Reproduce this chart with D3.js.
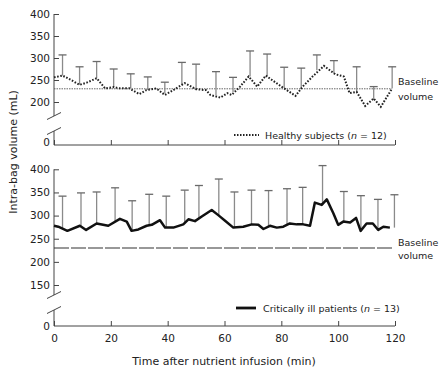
<!DOCTYPE html>
<html>
<head>
<meta charset="utf-8">
<script src="https://cdn.jsdelivr.net/npm/d3@7"></script>
<style>
  body { margin: 0; background: #fff; }
  svg { display: block; font-family: "DejaVu Sans", Verdana, sans-serif; }
</style>
</head>
<body>
<div id="chart"></div>
<script>
// data
const healthyTime = [0,3,6,9,11.5,15,18,21,23,26.5,30,32.5,36,39,42,46,50,53.5,55,58.5,61,62.5,65.5,68.5,71.5,74.5,80.5,85,87.5,91,95,99,102,104,106.5,109.5,112.5,115,119];
const healthyMean = [256,260,250,239,244,254,231,234,231,231,218,227,231,216,227,243,229,227,216,210,220,216,235,258,235,260,233,214,235,258,282,263,258,220,223,191,208,189,231];
const healthySdTime = [3,9,15,21,27,33,39,45,50,57,63,69,75,81,87,92.5,98.5,106.5,112.5,119];
const healthySdMean = [260,239,254,234,231,227,220,240,229,216,223,258,258,232,232,272,265,220,205,231];
const healthySdTop = [307,280,292,275,264,257,245,290,286,269,256,316,309,279,277,307,294,280,235,280];

const patientTime = [0,1.5,4.7,9.1,11.3,15,19.1,23.2,25.6,27.3,29.7,32.6,34.4,37.3,39.1,42,45.5,47.3,49.6,52,55.5,57.8,60.2,63.1,66.6,69.6,71.9,73.7,76,78.4,80.7,83,85.4,87.7,90.1,91.8,94.2,96,98.3,100,101.8,104.2,106.3,107.9,110,112.2,114.1,115.9,118.2];
const patientMean = [278,276,267,278,269,283,278,293,287,267,270,278,280,290,274,274,281,292,288,298,312,301,289,274,276,281,280,271,278,274,276,283,281,281,278,328,323,335,305,280,287,285,295,267,283,283,269,276,274];
const patientSdTime = [3,9.5,15,21.5,27.5,33.5,39.5,46,51,58,63.5,69.5,75.5,82,87.5,94.5,102,108,114,119.8];
const patientSdMean = [272,278,283,288,268,279,274,283,295,300,274,281,276,281,281,323,287,267,269,274];
const patientSdTop = [342,349,351,360,332,346,342,355,365,379,351,355,354,358,361,408,352,343,335,345];

const baseline = 230;
const xTicks = [0,20,40,60,80,100,120];
const topTicks = [200,250,300,350,400];
const botTicks = [150,200,250,300,350,400];

const W = 444, H = 375;
const axisColor = "#444";

const svg = d3.select("#chart").append("svg")
    .attr("width", W)
    .attr("height", H);

const x = d3.scaleLinear().domain([0, 120]).range([54, 395]);

// each panel: broken y axis, upper scale + a zero stub
const panels = [
  { y: d3.scaleLinear().domain([200, 400]).range([102, 14]), zeroY: 145, breakA: 116, breakB: 131,
    ticks: topTicks, labels: false },
  { y: d3.scaleLinear().domain([150, 400]).range([285, 169.3]), zeroY: 326, breakA: 295, breakB: 310,
    ticks: botTicks, labels: true }
];

panels.forEach(p => {
  let g = svg.append("g");
  let top = p.y(400);

  // y axis pieces with break marks
  g.append("line").attr("x1", 54).attr("x2", 54).attr("y1", top).attr("y2", p.breakA)
    .attr("stroke", axisColor);
  g.append("line").attr("x1", 54).attr("x2", 54).attr("y1", p.breakB).attr("y2", p.zeroY)
    .attr("stroke", axisColor);
  [p.breakA, p.breakB].forEach(b => {
    g.append("line")
      .attr("x1", 47).attr("y1", b + 3.5)
      .attr("x2", 61).attr("y2", b - 3.5)
      .attr("stroke", axisColor);
  });

  let yAxis = d3.axisLeft(p.y).tickValues(p.ticks).tickSize(-5).tickPadding(4);
  g.append("g").attr("transform", "translate(54,0)").call(yAxis)
    .call(a => a.select(".domain").remove());

  let zeroScale = d3.scaleLinear().domain([0, 1]).range([p.zeroY, p.zeroY - 10]);
  g.append("g").attr("transform", "translate(54,0)")
    .call(d3.axisLeft(zeroScale).tickValues([0]).tickFormat(d3.format("d")).tickSize(0).tickPadding(4))
    .call(a => a.select(".domain").remove())
    .call(a => a.select(".tick text").attr("y", p.labels ? 0 : -3));

  // x axis
  let xAxis = d3.axisBottom(x).tickValues(xTicks).tickSize(-5).tickPadding(9);
  if (!p.labels) xAxis.tickFormat("");
  g.append("g").attr("transform", `translate(0,${p.zeroY})`).call(xAxis)
    .call(a => a.select(".domain").attr("d", `M54,0H395`));

  g.selectAll(".tick line").attr("stroke", axisColor);
  g.selectAll(".domain").attr("stroke", axisColor);
  g.selectAll(".tick text").attr("fill", "#222").attr("font-size", 10.5)
    .attr("font-family", "DejaVu Sans, Verdana, sans-serif");
});

const yT = panels[0].y, yB = panels[1].y;

// baselines
svg.append("line")
  .attr("x1", x(0)).attr("x2", x(119))
  .attr("y1", yT(baseline)).attr("y2", yT(baseline))
  .attr("stroke", "#555").attr("stroke-width", 0.9)
  .attr("stroke-dasharray", "1.5,1");
svg.append("line")
  .attr("x1", x(0)).attr("x2", x(119))
  .attr("y1", yB(baseline)).attr("y2", yB(baseline))
  .attr("stroke", "#333").attr("stroke-width", 1.2)
  .attr("stroke-dasharray", "15,2");

[yT(baseline), yB(baseline)].forEach((yy, i) => {
  let t = svg.append("text").attr("x", 398).attr("font-size", 9.5).attr("fill", "#222");
  t.append("tspan").attr("x", 398).attr("y", yy - (i ? 2 : 4)).text("Baseline");
  t.append("tspan").attr("x", 398).attr("y", yy + 11).text("volume");
});

function drawBars(times, means, tops, y) {
  let g = svg.append("g");
  times.forEach((t, i) => {
    g.append("line")
      .attr("x1", x(t)).attr("x2", x(t))
      .attr("y1", y(means[i])).attr("y2", y(tops[i]))
      .attr("stroke", "#8a8a8a").attr("stroke-width", 1.3);
    g.append("line")
      .attr("x1", x(t) - 4).attr("x2", x(t) + 4)
      .attr("y1", y(tops[i])).attr("y2", y(tops[i]))
      .attr("stroke", "#6a6a6a").attr("stroke-width", 1.3);
  });
}

drawBars(healthySdTime, healthySdMean, healthySdTop, yT);
drawBars(patientSdTime, patientSdMean, patientSdTop, yB);

const healthy = healthyTime.map((t, i) => ({ t, v: healthyMean[i] }));
const patients = patientTime.map((t, i) => ({ t, v: patientMean[i] }));

svg.append("path")
  .datum(healthy)
  .attr("fill", "none")
  .attr("stroke", "#222")
  .attr("stroke-width", 2)
  .attr("stroke-dasharray", "1.6,1.6")
  .attr("d", d3.line().x(d => x(d.t)).y(d => yT(d.v)));

svg.append("path")
  .datum(patients)
  .attr("fill", "none")
  .attr("stroke", "#111")
  .attr("stroke-width", 2.5)
  .attr("stroke-linejoin", "round")
  .attr("d", d3.line().x(d => x(d.t)).y(d => yB(d.v)));

// legends
svg.append("line").attr("x1", 234).attr("x2", 259).attr("y1", 135).attr("y2", 135)
  .attr("stroke", "#222").attr("stroke-width", 2).attr("stroke-dasharray", "1.5,1.5");
let l1 = svg.append("text").attr("x", 265).attr("y", 138.5).attr("font-size", 9.5).attr("fill", "#222");
l1.append("tspan").text("Healthy subjects (");
l1.append("tspan").attr("font-style", "italic").text("n");
l1.append("tspan").text(" = 12)");

svg.append("line").attr("x1", 236).attr("x2", 256).attr("y1", 308).attr("y2", 308)
  .attr("stroke", "#111").attr("stroke-width", 2.8);
let l2 = svg.append("text").attr("x", 263).attr("y", 311.5).attr("font-size", 9.5).attr("fill", "#222");
l2.append("tspan").text("Critically ill patients (");
l2.append("tspan").attr("font-style", "italic").text("n");
l2.append("tspan").text(" = 13)");

// axis titles
svg.append("text")
  .attr("x", 224).attr("y", 365)
  .attr("text-anchor", "middle")
  .attr("font-size", 11).attr("fill", "#222")
  .text("Time after nutrient infusion (min)");

svg.append("text")
  .attr("transform", "translate(17,152) rotate(-90)")
  .attr("text-anchor", "middle")
  .attr("font-size", 11).attr("fill", "#222")
  .text("Intra-bag volume (mL)");
</script>
</body>
</html>
